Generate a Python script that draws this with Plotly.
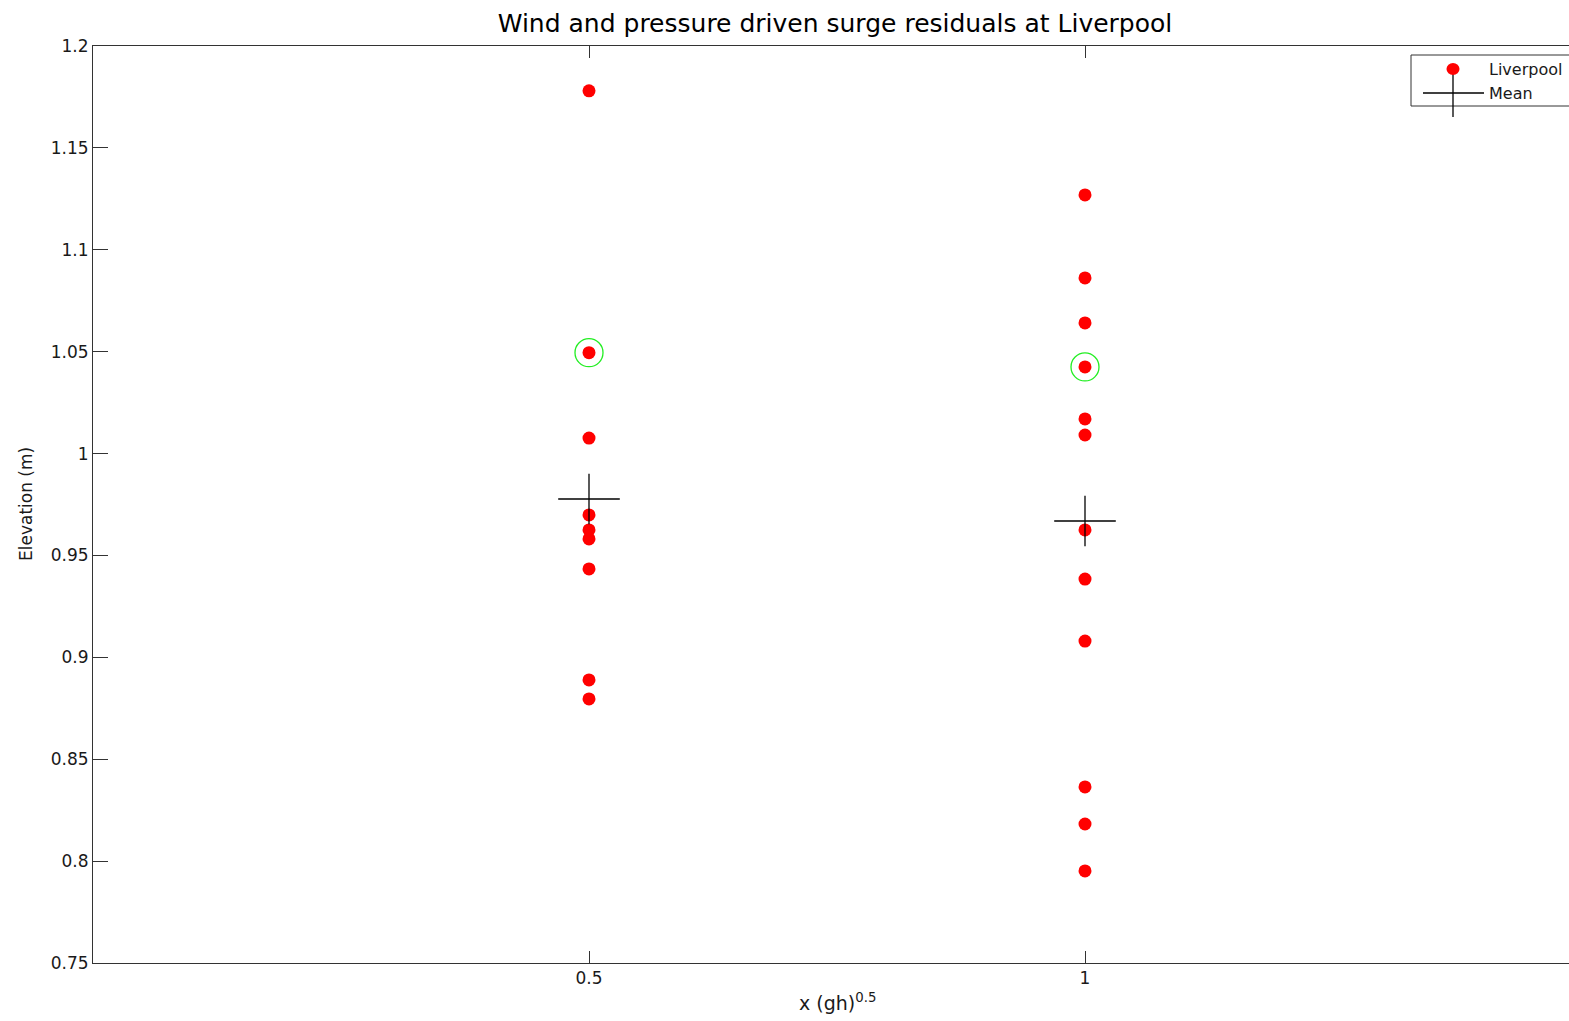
import plotly.graph_objects as go

# Surge residual elevations (m) grouped by the x (gh)^0.5 factor
group_x = [0.5, 1.0]
elev_at_05 = [1.178, 1.0495, 1.0076, 0.9699, 0.9625, 0.9581, 0.9434, 0.8889, 0.8796]
elev_at_10 = [1.1269, 1.0862, 1.0641, 1.0425, 1.0170, 1.0091, 0.9625, 0.9384,
              0.9080, 0.8364, 0.8182, 0.7952]
mean_elev = [0.9777, 0.9669]
highlight_elev = [1.0495, 1.0425]

y_ticks = [0.75, 0.8, 0.85, 0.9, 0.95, 1.0, 1.05, 1.1, 1.15, 1.2]
y_tick_text = ["0.75", "0.8", "0.85", "0.9", "0.95", "1", "1.05", "1.1", "1.15", "1.2"]
x_ticks = [0.5, 1.0]
x_tick_text = ["0.5", "1"]

W, H = 1569, 1021
ML, MT, MB, MR = 93, 46, 58, 0
PW, PH = W - ML - MR, H - MT - MB
X_PER_UNIT = 992.0  # pixels per x unit
x_range = [0, PW / X_PER_UNIT]

FONT = "DejaVu Sans, Verdana, sans-serif"
INK = "#1a1a1a"

def px_x(p):
    return (p - ML) / PW

def px_y(p):
    return (H - MB - p) / PH

fig = go.Figure()

xs = [group_x[0]] * len(elev_at_05) + [group_x[1]] * len(elev_at_10)
ys = elev_at_05 + elev_at_10
fig.add_trace(go.Scatter(
    x=xs, y=ys, mode="markers", name="Liverpool",
    marker=dict(symbol="circle", size=13, color="#ff0000", line=dict(width=0)),
))

# highlighted events
fig.add_trace(go.Scatter(
    x=group_x, y=highlight_elev, mode="markers", showlegend=False,
    marker=dict(symbol="circle-open", size=28, color="#22ee22",
                line=dict(width=1.3, color="#22ee22")),
))

# mean crosses: horizontal and vertical strokes (line symbols span 1.4 x size)
fig.add_trace(go.Scatter(
    x=group_x, y=mean_elev, mode="markers", name="Mean", showlegend=False,
    marker=dict(symbol="line-ew", size=44, color="#000000",
                line=dict(width=1.3, color="#000000")),
))
fig.add_trace(go.Scatter(
    x=group_x, y=mean_elev, mode="markers", showlegend=False,
    marker=dict(symbol="line-ns", size=36, color="#000000",
                line=dict(width=1.3, color="#000000")),
))

# legend box drawn by hand
shapes = [
    dict(type="rect", xref="paper", yref="paper",
         x0=px_x(1411), x1=px_x(1600), y0=px_y(106), y1=px_y(55),
         line=dict(color="#333333", width=1), fillcolor="white", layer="above"),
    dict(type="line", xref="paper", yref="paper",
         x0=px_x(1423), x1=px_x(1484), y0=px_y(93), y1=px_y(93),
         line=dict(color="#000000", width=1.3), layer="above"),
    dict(type="line", xref="paper", yref="paper",
         x0=px_x(1453), x1=px_x(1453), y0=px_y(69), y1=px_y(117),
         line=dict(color="#000000", width=1.3), layer="above"),
    dict(type="circle", xref="paper", yref="paper",
         x0=px_x(1446.5), x1=px_x(1459.5), y0=px_y(75), y1=px_y(63),
         line=dict(width=0), fillcolor="#ff0000", layer="above"),
]

annotations = [
    dict(text="Liverpool", xref="paper", yref="paper", x=px_x(1487), y=px_y(69),
         xanchor="left", yanchor="middle", showarrow=False,
         font=dict(family=FONT, size=16, color=INK)),
    dict(text="Mean", xref="paper", yref="paper", x=px_x(1487), y=px_y(93),
         xanchor="left", yanchor="middle", showarrow=False,
         font=dict(family=FONT, size=16, color=INK)),
    dict(text="x (gh)<sup>0.5</sup>", xref="x", yref="paper", x=0.75, y=px_y(1002),
         xanchor="center", yanchor="middle", showarrow=False,
         font=dict(family=FONT, size=19, color=INK)),
    dict(text="Elevation (m)", xref="paper", yref="paper", x=px_x(26), y=px_y(504),
         xanchor="center", yanchor="middle", textangle=-90, showarrow=False,
         font=dict(family=FONT, size=17, color=INK)),
]

fig.update_layout(
    width=W, height=H,
    margin=dict(l=ML, r=MR, t=MT, b=MB, pad=0),
    paper_bgcolor="white", plot_bgcolor="white",
    showlegend=False,
    title=dict(text="Wind and pressure driven surge residuals at Liverpool",
               x=835 / W, xref="container", xanchor="center",
               y=1 - 23 / H, yref="container", yanchor="middle",
               font=dict(family=FONT, size=25, color="#000000")),
    font=dict(family=FONT, size=17, color=INK),
    shapes=shapes,
    annotations=annotations,
)

fig.update_xaxes(
    range=x_range, tickvals=x_ticks, ticktext=x_tick_text,
    showgrid=False, zeroline=False,
    showline=True, linecolor="#333333", linewidth=1, mirror="ticks",
    ticks="inside", ticklen=12, tickcolor="#333333", tickwidth=1,
    tickfont=dict(family=FONT, size=17, color=INK),
)
fig.update_yaxes(
    range=[0.75, 1.2], tickvals=y_ticks, ticktext=y_tick_text,
    showgrid=False, zeroline=False,
    showline=True, linecolor="#333333", linewidth=1, mirror=False,
    ticks="inside", ticklen=15, tickcolor="#333333", tickwidth=1,
    tickfont=dict(family=FONT, size=17, color=INK),
)

fig.write_html("out.html")
